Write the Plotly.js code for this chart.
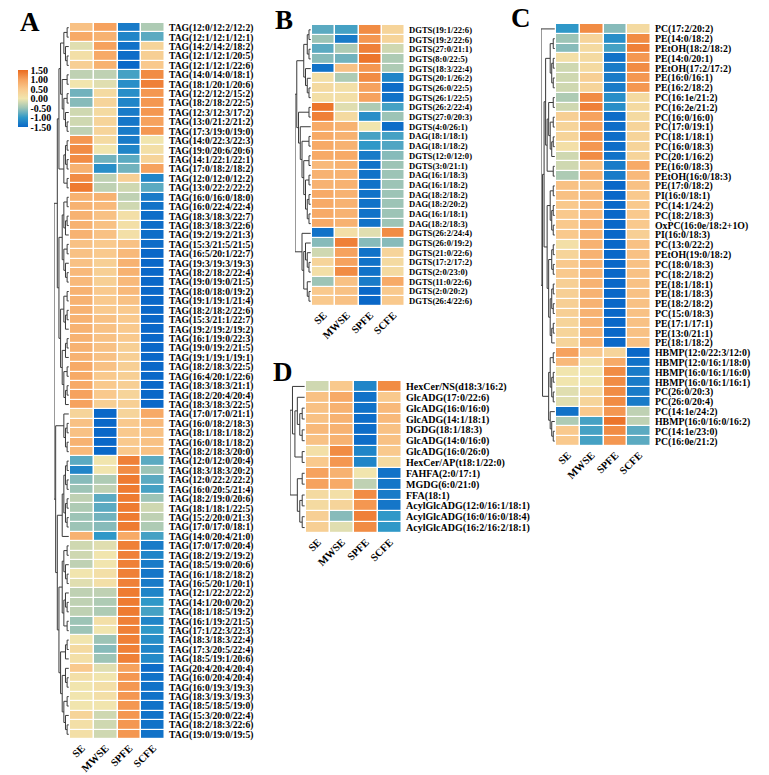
<!DOCTYPE html>
<html><head><meta charset="utf-8">
<script src="https://cdn.plot.ly/plotly-3.0.1.min.js"></script>
<style>html,body{margin:0;padding:0;background:#fff}#chart{width:769px;height:775px}</style>
</head><body><div id="chart"></div>
<script>
const samples = ['SE','MWSE','SPFE','SCFE'];

// ---- Panel A ----
const rowsA = ['TAG(12:0/12:2/12:2)','TAG(12:1/12:1/12:1)','TAG(14:2/14:2/18:2)','TAG(12:1/12:1/20:5)','TAG(12:1/12:1/22:6)','TAG(14:0/14:0/18:1)','TAG(18:1/20:1/20:6)','TAG(12:2/12:2/15:2)','TAG(18:2/18:2/22:5)','TAG(12:3/12:3/17:2)','TAG(13:0/21:2/21:2)','TAG(17:3/19:0/19:0)','TAG(14:0/22:3/22:3)','TAG(19:0/20:6/20:6)','TAG(14:1/22:1/22:1)','TAG(17:0/18:2/18:2)','TAG(12:0/12:0/12:2)','TAG(13:0/22:2/22:2)','TAG(16:0/16:0/18:0)','TAG(16:0/22:4/22:4)','TAG(18:3/18:3/22:7)','TAG(18:3/18:3/22:6)','TAG(19:2/19:2/21:3)','TAG(15:3/21:5/21:5)','TAG(16:5/20:1/22:7)','TAG(19:3/19:3/19:3)','TAG(18:2/18:2/22:4)','TAG(19:0/19:0/21:5)','TAG(18:0/18:0/19:2)','TAG(19:1/19:1/21:4)','TAG(18:2/18:2/22:6)','TAG(15:3/21:1/22:7)','TAG(19:2/19:2/19:2)','TAG(16:1/19:0/22:3)','TAG(19:0/19:2/21:5)','TAG(19:1/19:1/19:1)','TAG(18:2/18:3/22:5)','TAG(16:4/20:1/22:6)','TAG(18:3/18:3/21:1)','TAG(18:2/20:4/20:4)','TAG(18:3/18:3/22:5)','TAG(17:0/17:0/21:1)','TAG(16:0/18:2/18:3)','TAG(18:1/18:1/18:2)','TAG(16:0/18:1/18:2)','TAG(18:2/18:3/20:0)','TAG(12:0/12:0/20:4)','TAG(18:3/18:3/20:2)','TAG(12:0/22:2/22:2)','TAG(16:0/20:5/21:4)','TAG(18:2/19:0/20:6)','TAG(18:1/18:1/22:5)','TAG(15:2/20:0/21:3)','TAG(17:0/17:0/18:1)','TAG(14:0/20:4/21:0)','TAG(17:0/17:0/20:4)','TAG(18:2/19:2/19:2)','TAG(18:5/19:0/20:6)','TAG(16:1/18:2/18:2)','TAG(16:5/20:1/20:1)','TAG(12:1/22:2/22:2)','TAG(14:1/20:0/20:2)','TAG(18:1/18:5/19:2)','TAG(16:1/19:2/21:5)','TAG(17:1/22:3/22:3)','TAG(18:3/18:3/22:4)','TAG(17:3/20:5/22:4)','TAG(18:5/19:1/20:6)','TAG(20:4/20:4/20:4)','TAG(16:0/20:4/20:4)','TAG(16:0/19:3/19:3)','TAG(18:3/19:3/19:3)','TAG(18:5/18:5/19:0)','TAG(15:3/20:0/22:4)','TAG(18:2/18:3/22:6)','TAG(19:0/19:0/19:5)'];
const valsA = [
[0.6,1.0,-1.3,-0.4],[0.9,0.8,-1.2,-0.8],[-0.1,1.0,-1.4,0.3],[0.1,0.9,-1.45,0.4],[0.4,0.8,-1.5,0.5],
[-0.3,-0.3,-0.9,1.2],[0.0,-0.1,-1.1,1.3],[-0.7,0.2,-1.1,1.1],[-0.6,0.3,-1.2,1.1],[-0.2,0.2,-1.3,1.1],
[-0.2,0.3,-1.35,1.0],[-0.3,0.3,-1.3,1.1],[1.1,0.2,-1.3,0.0],[1.2,0.0,-1.2,0.1],[1.2,-0.7,-0.8,0.3],
[0.8,-1.1,-0.7,1.0],[1.2,-0.3,0.4,-1.2],[1.35,-0.3,-0.2,-0.8],[0.8,0.8,-0.3,-1.3],[0.8,0.7,-0.2,-1.4],
[0.8,0.6,0.1,-1.45],[0.8,0.6,0.1,-1.45],[0.8,0.6,0.1,-1.45],[0.6,0.5,0.6,-1.45],[0.6,0.5,0.7,-1.5],
[0.6,0.4,0.8,-1.5],[0.7,0.4,0.8,-1.5],[0.7,0.4,0.7,-1.5],[0.8,0.5,0.7,-1.5],[0.8,0.5,0.6,-1.5],
[0.8,0.5,0.5,-1.5],[0.8,0.6,0.5,-1.5],[0.8,0.6,0.5,-1.5],[0.8,0.6,0.5,-1.5],[0.8,0.6,0.4,-1.5],
[0.8,0.6,0.4,-1.5],[0.9,0.6,0.4,-1.5],[0.9,0.5,0.4,-1.5],[0.9,0.5,0.4,-1.5],[1.0,0.5,0.3,-1.5],
[1.0,0.4,0.4,-1.5],[0.3,-1.5,0.3,0.9],[0.6,-1.5,0.5,0.7],[0.6,-1.5,0.5,0.6],[0.8,-1.5,0.5,0.6],
[0.7,-1.5,0.5,0.6],[-0.8,0.0,1.3,-0.8],[-1.2,0.0,1.2,-0.5],[-0.6,-0.4,1.35,-0.8],[-0.5,-0.3,1.35,-0.9],
[-0.3,-0.8,1.35,-0.5],[-0.4,-0.8,1.35,-0.2],[-0.5,-0.7,1.35,-0.3],[-0.5,-0.6,1.35,-0.4],[0.8,-1.0,0.9,-0.9],
[-0.2,-0.1,1.3,-1.3],[-0.2,0.0,1.3,-1.2],[-0.3,0.0,1.3,-1.3],[0.0,0.1,1.3,-1.35],[-0.1,0.1,1.3,-1.3],
[-0.3,-0.3,1.35,-1.2],[-0.3,-0.4,1.35,-1.0],[-0.3,-0.4,1.35,-0.9],[-0.5,0.1,1.3,-1.2],[-0.5,0.0,1.3,-1.0],
[0.0,-0.5,1.3,-1.1],[0.2,-0.6,1.3,-1.2],[0.1,-0.5,1.3,-1.15],[0.5,-0.1,1.0,-1.45],[0.1,0.0,1.1,-1.4],
[0.0,0.1,1.1,-1.4],[0.0,0.1,1.1,-1.4],[0.0,0.0,1.1,-1.4],[0.3,-0.2,1.1,-1.4],[0.1,-0.2,1.1,-1.4],
[0.1,-0.2,1.1,-1.4]];
const G1 = [[[[1,2],[3,[4,5]]],[[6,7],[[8,9],[10,[11,12]]]]],[[[13,14],[15,16]],[17,18]]];
const G2 = [[[[19,20],[[21,22],23]],[[24,25],[26,[27,28]]]],[[[29,30],[[31,32],33]],[[[34,35],36],[[37,38],[[39,40],41]]]]];
const G3 = [42,[[43,44],[45,46]]];
const G4 = [[[[47,48],[49,50]],[[51,52],[53,54]]],55];
const G5 = [[[[56,57],[58,[59,60]]],[[61,[62,63]],[64,65]]],[[[66,67],68],[[69,[70,71]],[[72,73],[74,[75,76]]]]]];
const treeA = [[G1,G2],[G3,[G4,G5]]];

// ---- Panel B ----
const rowsB = ['DGTS(19:1/22:6)','DGTS(19:2/22:6)','DGTS(27:0/21:1)','DGTS(8:0/22:5)','DGTS(18:3/22:4)','DGTS(20:1/26:2)','DGTS(26:0/22:5)','DGTS(26:1/22:5)','DGTS(26:2/22:4)','DGTS(27:0/20:3)','DGTS(4:0/26:1)','DAG(18:1/18:1)','DAG(18:1/18:2)','DGTS(12:0/12:0)','DGTS(3:0/21:1)','DAG(16:1/18:3)','DAG(16:1/18:2)','DAG(18:2/18:2)','DAG(18:2/20:2)','DAG(16:1/18:1)','DAG(18:2/18:3)','DGTS(26:2/24:4)','DGTS(26:0/19:2)','DGTS(21:0/22:6)','DGTS(17:2/17:2)','DGTS(2:0/23:0)','DGTS(11:0/22:6)','DGTS(2:0/20:2)','DGTS(26:4/22:6)'];
const valsB = [
[-0.8,-0.9,1.2,0.3],[-0.5,-1.3,1.1,0.3],[-0.8,-0.4,1.3,-0.2],[-0.6,-0.7,1.4,-0.4],[-1.4,0.6,1.1,-0.4],
[0.1,-0.4,1.2,-1.2],[0.2,0.1,1.0,-1.45],[0.1,0.1,1.0,-1.4],[1.4,-0.1,-0.4,-0.9],[1.3,0.2,-1.1,-0.5],
[0.9,0.8,0.0,-1.45],[0.9,0.8,-0.9,-0.9],[0.9,0.8,-1.0,-0.85],[0.9,0.9,-1.3,-0.6],[0.7,0.8,-1.4,-0.5],
[0.8,0.8,-1.4,-0.5],[0.8,0.8,-1.4,-0.5],[0.9,0.8,-1.4,-0.5],[0.9,0.8,-1.4,-0.5],[0.9,0.8,-1.4,-0.5],
[0.9,0.8,-1.4,-0.5],[-1.4,0.1,-0.1,1.2],[-0.6,1.3,-0.6,-0.6],[-0.2,1.0,-1.4,0.3],[0.3,1.0,-1.4,0.2],
[0.1,1.2,-1.4,0.2],[-0.5,0.6,-1.3,0.9],[0.5,0.6,-1.5,0.5],[0.5,0.6,-1.5,0.5]];
const treeB = [[[[[1,2],[3,4]],[5,[6,[7,8]]]],[[9,10],[11,[[12,13],[[14,15],[[16,17],[[18,19],[20,21]]]]]]]],[22,[[23,[24,[25,26]]],[27,[28,29]]]]];

// ---- Panel C ----
const rowsC = ['PC(17:2/20:2)','PE(14:0/18:2)','PEtOH(18:2/18:2)','PE(14:0/20:1)','PEtOH(17:2/17:2)','PE(16:0/16:1)','PE(16:2/18:2)','PC(16:1e/21:2)','PC(16:2e/21:2)','PC(16:0/16:0)','PC(17:0/19:1)','PC(18:1/18:1)','PC(16:0/18:3)','PC(20:1/16:2)','PE(16:0/18:3)','PEtOH(16:0/18:3)','PE(17:0/18:2)','PI(16:0/18:1)','PC(14:1/24:2)','PC(18:2/18:3)','OxPC(16:0e/18:2+1O)','PI(16:0/18:3)','PC(13:0/22:2)','PEtOH(19:0/18:2)','PC(18:0/18:3)','PC(18:2/18:2)','PE(18:1/18:1)','PE(18:1/18:3)','PE(18:2/18:2)','PC(15:0/18:3)','PE(17:1/17:1)','PE(13:0/21:1)','PE(18:1/18:2)','HBMP(12:0/22:3/12:0)','HBMP(12:0/16:1/18:0)','HBMP(16:0/16:1/16:0)','HBMP(16:0/16:1/16:1)','PC(26:0/20:3)','PC(26:0/20:4)','PC(14:1e/24:2)','HBMP(16:0/16:0/16:2)','PC(14:1e/23:0)','PC(16:0e/21:2)'];
const valsC = [
[-1.0,1.2,-0.6,0.2],[-0.5,0.3,-1.1,1.2],[-0.6,0.2,-0.9,1.3],[0.1,0.2,-1.4,1.1],[-0.2,0.2,-1.3,1.2],
[-0.2,0.4,-1.3,1.1],[-0.2,0.3,-1.3,1.1],[-0.4,1.2,-1.1,0.2],[-0.2,1.3,-1.1,0.2],[0.4,1.0,-1.45,0.2],
[0.3,1.0,-1.45,0.3],[0.3,1.1,-1.45,0.3],[0.1,1.1,-1.45,0.3],[-0.2,1.2,-1.4,0.3],[-0.2,0.6,-1.3,0.9],
[-0.4,0.8,-1.3,0.7],[0.6,0.6,-1.5,0.6],[0.6,0.7,-1.5,0.5],[0.5,0.7,-1.5,0.5],[0.5,0.7,-1.5,0.5],
[0.5,0.8,-1.5,0.5],[0.5,0.8,-1.5,0.4],[0.1,0.8,-1.5,0.6],[0.3,0.8,-1.5,0.6],[0.5,0.8,-1.5,0.6],
[0.5,0.8,-1.5,0.6],[0.4,0.8,-1.5,0.6],[0.4,0.8,-1.5,0.6],[0.4,0.8,-1.5,0.6],[0.4,0.8,-1.5,0.6],
[0.3,0.8,-1.5,0.6],[0.3,0.8,-1.5,0.6],[0.3,0.8,-1.5,0.6],[1.0,0.5,0.3,-1.5],[0.7,0.1,0.9,-1.4],
[0.0,0.0,1.2,-1.3],[0.0,0.0,1.2,-1.3],[-0.1,0.2,1.2,-1.3],[-0.1,0.3,1.2,-1.3],[-1.4,0.5,1.1,-0.3],
[-0.4,-0.9,1.4,-0.3],[0.5,-0.9,1.2,-0.8],[0.5,-0.9,1.1,-0.8]];
const C17 = [[[17,18],[[19,20],[21,22]]],[[[23,24],[25,26]],[[[27,28],[29,30]],[[31,32],33]]]];
const Cmid = [[[[2,3],[[4,5],[6,7]]],[[[8,9],[[10,11],[[12,13],14]]],[15,16]]],C17];
const Cbot = [[[34,35],[[36,37],[38,39]]],[40,[41,[42,43]]]];
const treeC = [1,[Cmid,Cbot]];

// ---- Panel D ----
const rowsD = ['HexCer/NS(d18:3/16:2)','GlcADG(17:0/22:6)','GlcADG(16:0/16:0)','GlcADG(14:1/18:1)','DGDG(18:1/18:3)','GlcADG(14:0/16:0)','GlcADG(16:0/26:0)','HexCer/AP(t18:1/22:0)','FAHFA(2:0/17:1)','MGDG(6:0/21:0)','FFA(18:1)','AcylGlcADG(12:0/16:1/18:1)','AcylGlcADG(16:0/16:0/18:4)','AcylGlcADG(16:2/16:2/18:1)'];
const valsD = [
[-0.2,0.5,-1.2,1.2],[0.6,0.9,-1.4,0.5],[0.6,0.8,-1.4,0.7],[0.6,0.8,-1.45,0.7],[0.7,0.8,-1.45,0.6],
[0.6,0.8,-1.45,0.6],[0.1,1.2,-1.2,0.5],[0.5,1.1,-1.2,0.2],[1.0,0.8,0.0,-1.4],[1.0,0.9,-0.3,-1.35],
[0.2,0.1,1.2,-1.3],[0.2,0.3,1.1,-1.35],[0.4,-0.6,1.3,-1.0],[0.4,-0.1,1.2,-1.0]];
const treeD = [[1,[[2,[[3,4],[5,6]]],[7,8]]],[[9,10],[[11,12],[13,14]]]];

const cbTicks = [-1.5,-1,-0.5,0,0.5,1,1.5];
const cbText = ['-1.50','-1.00','-0.50','0.00','0.50','1.00','1.50'];

// ---- drawing ----
const W = 769, H = 775;
const colorscale = [[0,'#0a68c8'],[0.1667,'#2f98c8'],[0.3333,'#9dc4b6'],[0.5,'#f1e5ae'],[0.6667,'#f9c98d'],[0.8333,'#f6a25e'],[1,'#ea6a1e']];
const serif = 'Liberation Serif, Times New Roman, serif';

function dendro(tree){
  const xs=[], ys=[];
  function walk(n){
    if (typeof n === 'number') return {y:n-1,h:0};
    const a=walk(n[0]), b=walk(n[1]);
    const h=Math.max(a.h,b.h)+1;
    xs.push(a.h,h,h,b.h,null); ys.push(a.y,a.y,b.y,b.y,null);
    return {y:(a.y+b.y)/2,h:h};
  }
  const r = walk(tree);
  return {xs,ys,hmax:r.h};
}
const px = v => v/W;
const py = v => 1 - v/H;

const panels = [
  {rows:rowsA, vals:valsA, tree:treeA, x:[70,165], y:[23,739], d:[54,69], fs:9.6, n:''},
  {rows:rowsB, vals:valsB, tree:treeB, x:[312,405], y:[25,306], d:[295,311], fs:8.6, n:'2'},
  {rows:rowsC, vals:valsC, tree:treeC, x:[556,651], y:[24,446], d:[541,555], fs:9.8, n:'3'},
  {rows:rowsD, vals:valsD, tree:treeD, x:[306,402], y:[381,533], d:[290,305], fs:10, n:'4'}
];
const data = [], layout = {
  width:W, height:H, margin:{l:0,r:0,t:0,b:0,pad:0}, paper_bgcolor:'#fff', plot_bgcolor:'#fff',
  showlegend:false, font:{family:serif, color:'#000'}, annotations:[]
};
panels.forEach((p,i)=>{
  const xa = 'x'+p.n, ya = 'y'+p.n, dn = 'x'+(5+i);
  const idx = p.rows.map((_,k)=>k);
  data.push({type:'heatmap', x:samples, y:idx, z:p.vals, xaxis:xa, yaxis:ya,
    colorscale, zmin:-1.5, zmax:1.5, xgap:1.5, ygap:1.2, hoverinfo:'skip',
    showscale: i===0,
    colorbar: i===0 ? {x:px(8), xanchor:'left', y:py(98.5), yanchor:'middle', lenmode:'pixels', len:77,
      thickness:10, outlinewidth:0, tickvals:cbTicks, ticktext:cbText, ticks:'', ticklabelstandoff:1,
      tickfont:{family:serif, size:10, weight:'bold', color:'#000'}} : undefined});
  const d = dendro(p.tree);
  data.push({type:'scatter', mode:'lines', x:d.xs, y:d.ys, xaxis:dn, yaxis:ya,
    line:{color:'#3a3a3a', width:1}, hoverinfo:'skip'});
  const xk = 'xaxis'+p.n, yk = 'yaxis'+p.n;
  layout[xk] = {domain:[px(p.x[0]),px(p.x[1])], anchor:ya, type:'category', tickangle:-45,
    showgrid:false, zeroline:false, showline:false, ticks:'', ticklabelstandoff:0,
    tickfont:{family:serif, size:10.5, weight:'bold', color:'#000'}};
  layout[yk] = {domain:[py(p.y[1]),py(p.y[0])], anchor:xa, side:'right', range:[p.rows.length-0.5,-0.5],
    tickvals:idx, ticktext:p.rows, showgrid:false, zeroline:false, showline:false, ticks:'', ticklabelstandoff:3,
    tickfont:{family:serif, size:p.fs, weight:'bold', color:'#000'}};
  layout['xaxis'+(5+i)] = {domain:[px(p.d[0]),px(p.d[1])], anchor:ya, range:[d.hmax+0.02,-0.15], visible:false};
});
[['A',30,22],['B',284,20],['C',521,18],['D',283,372]].forEach(([t,x,y])=>{
  layout.annotations.push({text:t, x:px(x), y:py(y), xref:'paper', yref:'paper', showarrow:false,
    xanchor:'center', yanchor:'middle', font:{family:serif, size:27, weight:'bold', color:'#000'}});
});
Plotly.newPlot('chart', data, layout, {displayModeBar:false, staticPlot:true});
</script></body></html>
